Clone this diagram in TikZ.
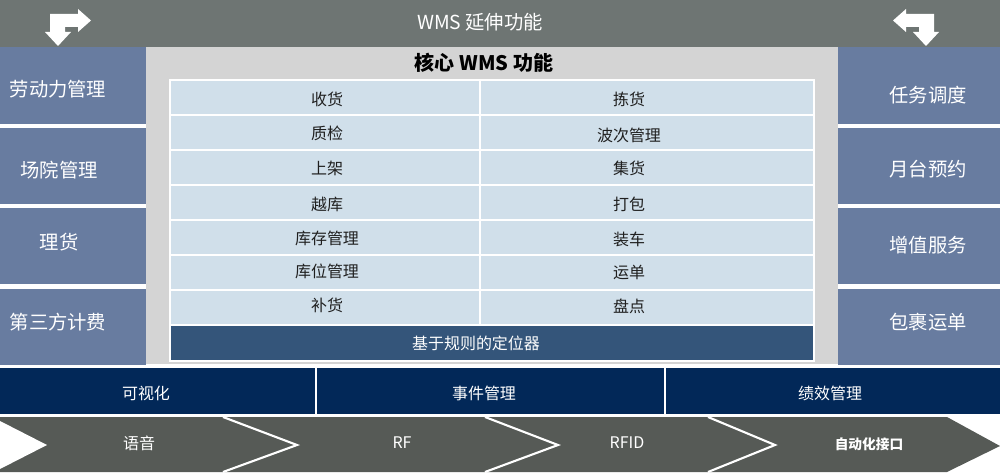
\documentclass[tikz,border=0pt]{standalone}
\usepackage{fontspec}
\setmainfont{Noto Sans CJK SC}
\definecolor{topgray}{RGB}{110,117,115}
\definecolor{sideblue}{RGB}{104,124,160}
\definecolor{panelgray}{RGB}{212,212,212}
\definecolor{cellblue}{RGB}{208,223,234}
\definecolor{barblue}{RGB}{52,85,122}
\definecolor{navyblue}{RGB}{2,40,88}
\definecolor{bandgray}{RGB}{86,90,86}
\begin{document}
\begin{tikzpicture}[x=0.02cm,y=-0.02cm,
  sidetext/.style={text=white,font=\fontsize{11}{13}\selectfont},
  celltext/.style={text=black!88,font=\fontsize{9.1}{11}\selectfont},
  basetext/.style={text=white,font=\fontsize{9.1}{11}\selectfont}]
  \useasboundingbox (0,0) rectangle (1000,476);
  % top bar
  \fill[topgray] (0,0) rectangle (1000,47);
  \node[sidetext] (ext) at (480,22){WMS 延伸功能};
  % arrow left
  \fill[white] (50,14) -- (78,14) -- (78,9) -- (91,20.5) -- (78,32) -- (78,27) -- (65,27) -- (65,32) -- (71,32) -- (58,46) -- (45,32) -- (50,32) -- cycle;
  % arrow right
  \fill[white] (934,14) -- (906,14) -- (906,9) -- (893,20.5) -- (906,32) -- (906,27) -- (919,27) -- (919,32) -- (913,32) -- (926,46) -- (939,32) -- (934,32) -- cycle;
  % left column
  \fill[sideblue] (0,47) rectangle (146,124);
  \fill[sideblue] (0,128) rectangle (146,204);
  \fill[sideblue] (0,208) rectangle (146,284);
  \fill[sideblue] (0,289) rectangle (146,365);
  \node[sidetext] (labor) at (58,89){劳动力管理};
  \node[sidetext] (yard) at (59,170){场院管理};
  \node[sidetext] (tally) at (59,242){理货};
  \node[sidetext] (billing) at (58,322){第三方计费};
  % right column
  \fill[sideblue] (838,47) rectangle (1000,124);
  \fill[sideblue] (838,128) rectangle (1000,204);
  \fill[sideblue] (838,208) rectangle (1000,284);
  \fill[sideblue] (838,289) rectangle (1000,365);
  \node[sidetext] (task) at (928,95){任务调度};
  \node[sidetext] (dock) at (928,169){月台预约};
  \node[sidetext] (vas) at (928,245){增值服务};
  \node[sidetext] (parcel) at (928,322){包裹运单};
  % core panel
  \fill[panelgray] (146,47) rectangle (838,364);
  \node[text=black,font=\bfseries\fontsize{11.4}{13}\selectfont] (core) at (484,63){核心 WMS 功能};
  \fill[white] (169,79) rectangle (815,362);
  % row 0
  \fill[cellblue] (171,81) rectangle (479,114);
  \fill[cellblue] (481,81) rectangle (813,114);
  \node[celltext] (receive) at (327,99){收货};
  \node[celltext] (pick) at (629,99){拣货};
  % row 1
  \fill[cellblue] (171,116) rectangle (479,149);
  \fill[cellblue] (481,116) rectangle (813,149);
  \node[celltext] (qc) at (327,133){质检};
  \node[celltext] (wave) at (629,135){波次管理};
  % row 2
  \fill[cellblue] (171,151) rectangle (479,184);
  \fill[cellblue] (481,151) rectangle (813,184);
  \node[celltext] (putaway) at (327,168){上架};
  \node[celltext] (consol) at (629,168){集货};
  % row 3
  \fill[cellblue] (171,186) rectangle (479,219);
  \fill[cellblue] (481,186) rectangle (813,219);
  \node[celltext] (xdock) at (327,204){越库};
  \node[celltext] (pack) at (629,204){打包};
  % row 4
  \fill[cellblue] (171,221) rectangle (479,254);
  \fill[cellblue] (481,221) rectangle (813,254);
  \node[celltext] (stock) at (327,238){库存管理};
  \node[celltext] (load) at (629,239){装车};
  % row 5
  \fill[cellblue] (171,256) rectangle (479,289);
  \fill[cellblue] (481,256) rectangle (813,289);
  \node[celltext] (slot) at (327,271){库位管理};
  \node[celltext] (waybill) at (629,272){运单};
  % row 6
  \fill[cellblue] (171,291) rectangle (479,324);
  \fill[cellblue] (481,291) rectangle (813,324);
  \node[celltext] (replen) at (327,305){补货};
  \node[celltext] (count) at (629,306){盘点};
  % locator bar
  \fill[barblue] (171,326) rectangle (813,360);
  \node[basetext] (locator) at (476,343){基于规则的定位器};
  % base row
  \fill[navyblue] (0,368) rectangle (1000,414);
  \fill[white] (315,368) rectangle (317,414);
  \fill[white] (664,368) rectangle (666,414);
  \node[basetext] (visual) at (146,393){可视化};
  \node[basetext] (event) at (484,393){事件管理};
  \node[basetext] (kpi) at (830,393){绩效管理};
  % chevron band
  \fill[bandgray] (0,417) -- (947,417) -- (1000,446) -- (947,472) -- (0,472) -- cycle;
  \fill[white] (0,421) -- (47,445) -- (0,469) -- cycle;
  \draw[white,line width=1.2pt] (223,417) -- (297,445) -- (223,472);
  \draw[white,line width=1.2pt] (485,417) -- (558,445) -- (485,472);
  \draw[white,line width=1.2pt] (708,417) -- (775,445) -- (708,472);
  \node[basetext] (voice) at (139,443){语音};
  \node[basetext] (rf) at (402,443){RF};
  \node[basetext] (rfid) at (627,443){RFID};
  \node[text=white,font=\bfseries\fontsize{7.8}{10}\selectfont] (auto) at (869,444){自动化接口};
\end{tikzpicture}
\end{document}
